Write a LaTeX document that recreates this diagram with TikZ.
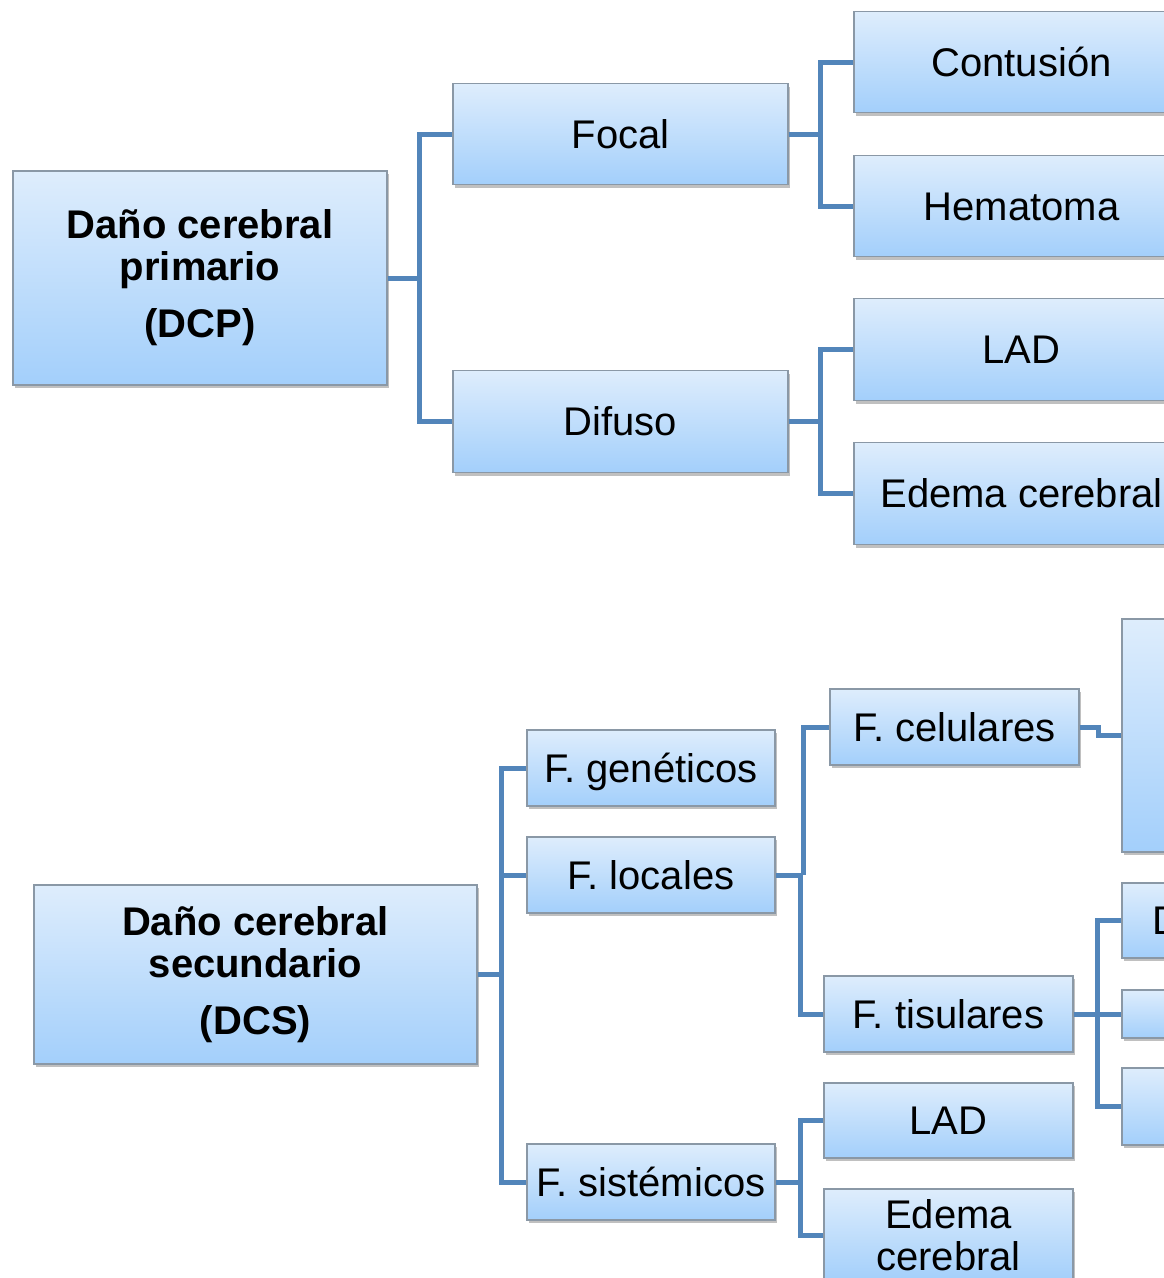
\documentclass[tikz,border=0pt]{standalone}
\usepackage{fontspec}
\setmainfont{Liberation Sans}
\usetikzlibrary{shadows}
\definecolor{boxtop}{RGB}{222,237,252}
\definecolor{boxbot}{RGB}{163,207,251}
\definecolor{boxline}{RGB}{138,152,166}
\definecolor{conn}{RGB}{82,133,186}
\tikzset{
  bx/.style={draw=boxline, line width=1.3pt, top color=boxtop, bottom color=boxbot,
    inner sep=0pt, align=center,
    drop shadow={shadow xshift=2pt, shadow yshift=-3pt, opacity=0.35, fill=black!70},
    font=\fontsize{40}{42}\selectfont},
  one/.style={bx, text height=28.5pt, text depth=0pt},
  sz/.style n args={2}{minimum width=#1pt, minimum height=#2pt},
  cn/.style={draw=conn, line width=5pt, line join=miter},
}
\begin{document}
\begin{tikzpicture}[x=1pt,y=-1pt]
\useasboundingbox (0,0) rectangle (1164,1278);
\fill[white] (0,0) rectangle (1164,1278);
\clip (0,0) rectangle (1164,1278);

% ---------- top tree ----------
\node[bx, sz={374}{214}, font=\bfseries\fontsize{40}{42}\selectfont] (dcp) at (200,278)
  {Daño cerebral\\primario\\[15pt](DCP)};
\node[one, sz={335}{101}] (focal) at (620.5,134) {Focal};
\node[one, sz={335}{102}] (difuso) at (620.5,421.5) {Difuso};
\node[one, sz={335}{101}] (contusion) at (1021.5,62) {Contusión};
\node[one, sz={335}{101}] (hematoma) at (1021.5,206) {Hematoma};
\node[one, sz={335}{102}] (lad1) at (1021.5,349.5) {LAD};
\node[one, sz={335}{102}] (edema1) at (1021.5,493.5) {Edema cerebral};

\draw[cn] (dcp.east) -- (419,278) coordinate (j1);
\draw[cn] (focal.west) -| (j1) |- (difuso.west);
\draw[cn] (focal.east) -- (820,134) coordinate (j2);
\draw[cn] (contusion.west) -| (j2) |- (hematoma.west);
\draw[cn] (difuso.east) -- (820,421.5) coordinate (j3);
\draw[cn] (lad1.west) -| (j3) |- (edema1.west);

% ---------- bottom tree ----------
\node[bx, sz={443}{179}, font=\bfseries\fontsize{40}{42}\selectfont] (dcs) at (255.5,974.5)
  {Daño cerebral\\secundario\\[15pt](DCS)};
\node[one, sz={248}{76}] (gen) at (651,768) {F. genéticos};
\node[one, sz={248}{76}] (loc) at (651,875) {F. locales};
\node[one, sz={248}{76}] (sis) at (651,1182) {F. sistémicos};
\node[one, sz={249}{76}] (cel) at (954.5,727) {F. celulares};
\node[one, sz={249}{76}] (tis) at (948.5,1014) {F. tisulares};
\node[one, sz={249}{75}] (lad2) at (948.5,1120.5) {LAD};
\node[bx, sz={249}{92}] (edema2) at (948.5,1235) {Edema\\cerebral};

% clipped boxes at the right edge
\node[bx, sz={249}{233}] (r1) at (1246.5,735.5) {};
\node[bx, sz={249}{75}] (r2) at (1246.5,920.5) {};
\node[bx, sz={249}{48}] (r3) at (1246.5,1014) {};
\node[bx, sz={249}{77}] (r4) at (1246.5,1106.5) {};
\node[anchor=west, inner sep=0pt, font=\fontsize{40}{42}\selectfont, text height=28.5pt, text depth=0pt] (rtxt) at (1152,920.5) {D};

\draw[cn] (dcs.east) -- (501,974.5) coordinate (k1);
\draw[cn] (gen.west) -| (k1) |- (sis.west);
\draw[cn] (loc.west) -- (501,875);
\draw[cn] (loc.east) -- (803,875) coordinate (k2);
\draw[cn] (cel.west) -| (k2);
\draw[cn] (800,875) |- (tis.west);
\draw[cn] (sis.east) -- (800,1182) coordinate (k3);
\draw[cn] (lad2.west) -| (k3) |- (edema2.west);
\draw[cn] (cel.east) -- (1098,727) -- (1098,735.5) -- (r1.west);
\draw[cn] (tis.east) -- (1097,1014) coordinate (k4);
\draw[cn] (r2.west) -| (k4) |- (r4.west);
\draw[cn] (k4) -- (r3.west);
\end{tikzpicture}
\end{document}
